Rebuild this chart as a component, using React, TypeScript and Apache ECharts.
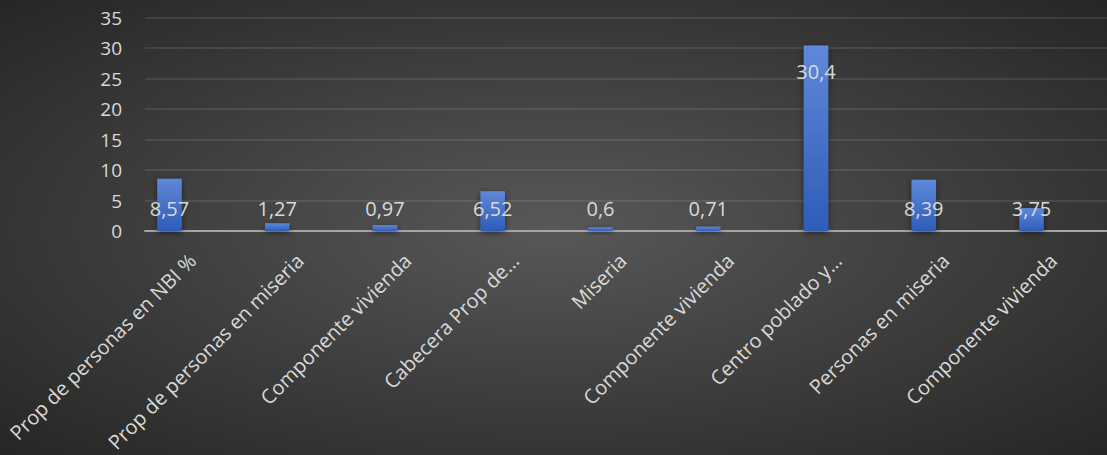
import React, { useEffect, useRef } from "react";
import * as echarts from "echarts";

const categories = [
  "Prop de personas en NBI %",
  "Prop de personas en miseria",
  "Componente vivienda",
  "Cabecera Prop de…",
  "Miseria",
  "Componente vivienda",
  "Centro poblado y…",
  "Personas en miseria",
  "Componente vivienda",
];
const values = [8.57, 1.27, 0.97, 6.52, 0.6, 0.71, 30.4, 8.39, 3.75];
const yMin = 0;
const yMax = 35;
const yStep = 5;

const FONT = "'Open Sans', 'Noto Sans', sans-serif";
const TXT = "#d9d9d9";

export default function App() {
  const ref = useRef<HTMLDivElement>(null);
  useEffect(() => {
    document.body.style.margin = "0";
    if (!ref.current) return;
    const chart = echarts.init(ref.current, null, { renderer: "svg" });
    const top = 17.5;
    const height = 213.5;
    const barLeft = 115.6;
    const barWidthAll = 969.8;
    const labelShift = 23;
    const fmt = (v: number) => String(v).replace(".", ",");
    chart.setOption({
      animation: false,
      backgroundColor: "transparent",
      grid: [
        { left: 145, right: 0, top, height },
        { left: barLeft, width: barWidthAll, top, height },
        { left: barLeft + labelShift, width: barWidthAll, top, height },
      ],
      xAxis: [
        {
          gridIndex: 0,
          type: "category",
          data: [""],
          axisLine: { show: true, lineStyle: { color: "#a6a6a6", width: 2 } },
          axisTick: { show: false },
          axisLabel: { show: false },
        },
        {
          gridIndex: 1,
          type: "category",
          data: categories,
          axisLine: { show: false },
          axisTick: { show: false },
          axisLabel: { show: false },
        },
        {
          gridIndex: 2,
          type: "category",
          data: categories,
          axisLine: { show: false },
          axisTick: { show: false },
          axisLabel: {
            show: true,
            interval: 0,
            rotate: 45,
            margin: 32,
            color: TXT,
            fontFamily: FONT,
            fontSize: 20,
          },
        },
      ],
      yAxis: [
        {
          gridIndex: 0,
          type: "value",
          min: yMin,
          max: yMax,
          interval: yStep,
          axisLine: { show: false },
          axisTick: { show: false },
          splitLine: { lineStyle: { color: "rgba(255,255,255,0.12)", width: 1.5 } },
          axisLabel: { color: TXT, fontFamily: FONT, fontSize: 19, margin: 23 },
        },
        { gridIndex: 1, type: "value", min: yMin, max: yMax, show: false },
        { gridIndex: 2, type: "value", min: yMin, max: yMax, show: false },
      ],
      series: [
        {
          type: "bar",
          xAxisIndex: 1,
          yAxisIndex: 1,
          barWidth: 24.5,
          data: values.map((v) => ({
            value: v,
            label: v > 20
              ? { position: "insideTop", distance: 16 }
              : { position: "insideBottom", distance: 13 },
          })),
          itemStyle: {
            color: new echarts.graphic.LinearGradient(0, 0, 0, 1, [
              { offset: 0, color: "#5f88d8" },
              { offset: 1, color: "#2e5cb8" },
            ]),
            shadowColor: "rgba(0,0,0,0.5)",
            shadowBlur: 6,
            shadowOffsetY: 2,
          },
          label: {
            show: true,
            color: TXT,
            fontFamily: FONT,
            fontSize: 20,
            formatter: (p: any) => fmt(p.value),
          },
        },
      ],
    });
    return () => chart.dispose();
  }, []);
  return (
    <div
      ref={ref}
      style={{
        width: 1107,
        height: 455,
        background: "radial-gradient(ellipse at 50% 50%, #585858 0%, #3c3c3c 55%, #262626 100%)",
      }}
    />
  );
}
